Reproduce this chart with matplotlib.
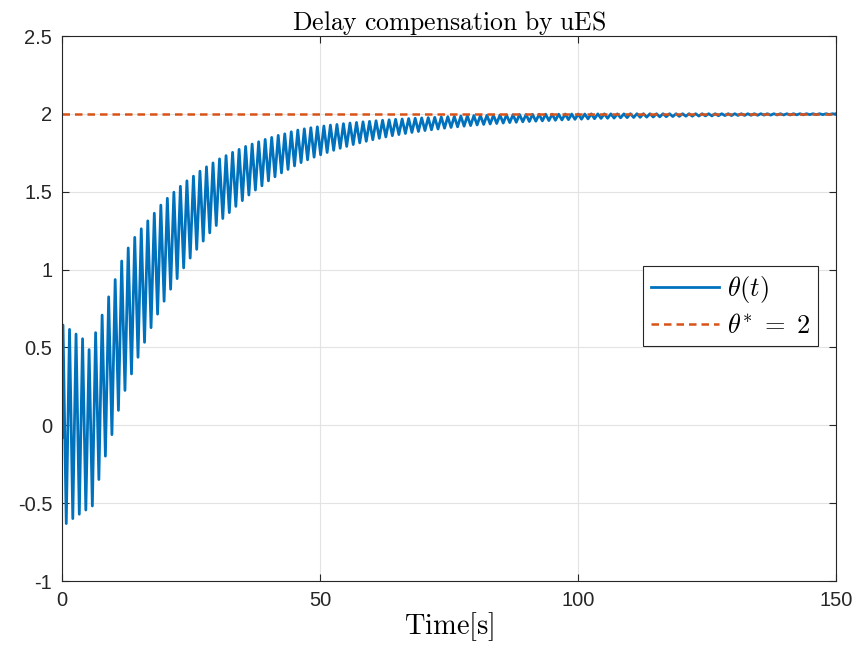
import numpy as np
import matplotlib
matplotlib.use("Agg")
import matplotlib.pyplot as plt
from matplotlib.ticker import FormatStrFormatter

# values
t_start = 0.0
theta_start = -0.08
t_end = 150.0
theta_end = 2.0
first_peak = 0.19      # time of first crest [s]
period = 1.264         # oscillation period [s]
theta_star = 2.0

# crest values of theta(t), one per cycle
peaks = [0.644, 0.616, 0.586, 0.556, 0.486, 0.595, 0.708, 0.825, 0.936, 1.055,
         1.139, 1.207, 1.262, 1.313, 1.362, 1.414, 1.458, 1.497, 1.535, 1.570,
         1.600, 1.632, 1.660, 1.685, 1.711, 1.732, 1.753, 1.772, 1.791, 1.806,
         1.821, 1.836, 1.849, 1.862, 1.872, 1.885, 1.896, 1.904,
         1.911, 1.917, 1.922, 1.928, 1.932, 1.937,
         1.941, 1.945, 1.949, 1.952, 1.956, 1.959,
         1.962, 1.965, 1.967, 1.970, 1.972, 1.974,
         1.976, 1.978, 1.980, 1.982, 1.984, 1.986, 1.988, 1.989,
         1.990, 1.991, 1.992, 1.993, 1.994, 1.995, 1.996, 1.996,
         1.997, 1.997, 1.998, 1.998, 1.998, 1.999, 1.999, 1.999,
         1.999, 2.000, 2.000, 2.000, 2.000, 2.000, 2.000, 2.001, 2.001, 2.001,
         2.001, 2.001, 2.001, 2.001, 2.001, 2.001, 2.001, 2.001, 2.001, 2.001,
         2.001, 2.001, 2.001, 2.001, 2.001, 2.001, 2.001, 2.001, 2.001, 2.001,
         2.001, 2.001, 2.001, 2.001, 2.001, 2.001, 2.001, 2.001, 2.001]

# trough values of theta(t), one per cycle (follow each crest)
troughs = [-0.631, -0.599, -0.571, -0.544, -0.518, -0.348, -0.198, -0.060, 0.096, 0.224,
           0.330, 0.437, 0.533, 0.627, 0.714, 0.797, 0.874, 0.942, 1.011, 1.074,
           1.130, 1.183, 1.236, 1.283, 1.328, 1.366, 1.406, 1.443, 1.479, 1.511,
           1.538, 1.570, 1.596, 1.621, 1.643, 1.666, 1.687,
           1.705, 1.722, 1.737, 1.752, 1.766, 1.779, 1.791,
           1.803, 1.814, 1.824, 1.834, 1.843, 1.852,
           1.860, 1.867, 1.874, 1.881, 1.887, 1.893,
           1.898, 1.903, 1.908, 1.913, 1.917, 1.921, 1.925, 1.929,
           1.932, 1.935, 1.938, 1.941, 1.944, 1.946, 1.949, 1.951,
           1.953, 1.955, 1.957, 1.959, 1.961, 1.963, 1.965, 1.966,
           1.968, 1.969, 1.971, 1.972, 1.973, 1.975, 1.976, 1.977, 1.978, 1.979,
           1.980, 1.981, 1.982, 1.983, 1.984, 1.985, 1.985, 1.986, 1.987, 1.987,
           1.988, 1.989, 1.989, 1.990, 1.990, 1.991, 1.991, 1.992, 1.992, 1.993,
           1.993, 1.993, 1.994, 1.994, 1.995, 1.995, 1.995, 1.996, 1.996]

x_ticks = [0, 50, 100, 150]
y_ticks = [-1, -0.5, 0, 0.5, 1, 1.5, 2, 2.5]

# build crest/trough sequence
n = min(len(peaks), len(troughs))
t_peak = first_peak + period * np.arange(n)
t_trough = t_peak + period / 2
t = np.empty(2 * n)
y = np.empty(2 * n)
t[0::2], t[1::2] = t_peak, t_trough
y[0::2], y[1::2] = peaks[:n], troughs[:n]
keep = t < t_end
t = np.concatenate([[t_start], t[keep], [t_end]])
y = np.concatenate([[theta_start], y[keep], [theta_end]])

plt.rcParams['font.family'] = ['Liberation Sans', 'DejaVu Sans']
plt.rcParams['mathtext.fontset'] = 'cm'
plt.rcParams['axes.unicode_minus'] = False

fig = plt.figure(figsize=(8.59, 6.61), dpi=100)
ax = fig.add_axes([0.0722, 0.121, 0.901, 0.8245])

ax.plot(t, y, color="#0072BD", lw=2.0, label=r"$\theta(t)$")
ax.plot([t_start, t_end], [theta_star, theta_star], color="#D95319", lw=1.8,
        linestyle=(0, (3.0, 2.0)), label=r"$\theta^{*}\;=\;2$")

ax.set_xlim(0, 150)
ax.set_ylim(-1, 2.5)
ax.set_xticks(x_ticks)
ax.set_yticks(y_ticks)
ax.yaxis.set_major_formatter(FormatStrFormatter('%g'))
ax.grid(True, color="#e3e3e3", lw=0.8)
ax.set_axisbelow(True)
ax.tick_params(direction="in", length=5, width=0.8, top=True, right=True,
               labelsize=14.5, colors="#262626", pad=7)
for s in ax.spines.values():
    s.set_color("#262626")
    s.set_linewidth(0.8)

ax.set_title(r"$\mathrm{Delay\ compensation\ by\ uES}$", fontsize=18.5, pad=4)
ax.set_xlabel(r"$\mathrm{Time[s]}$", fontsize=20.5, labelpad=0)

leg = ax.legend(loc="upper right", bbox_to_anchor=(0.977, 0.578), fontsize=19,
                fancybox=False, framealpha=1, edgecolor="#262626",
                borderpad=0.3, handlelength=2.6, handletextpad=0.3,
                labelspacing=0.35, borderaxespad=0)
leg.get_frame().set_linewidth(0.8)

fig.savefig("out.png", dpi=100)
